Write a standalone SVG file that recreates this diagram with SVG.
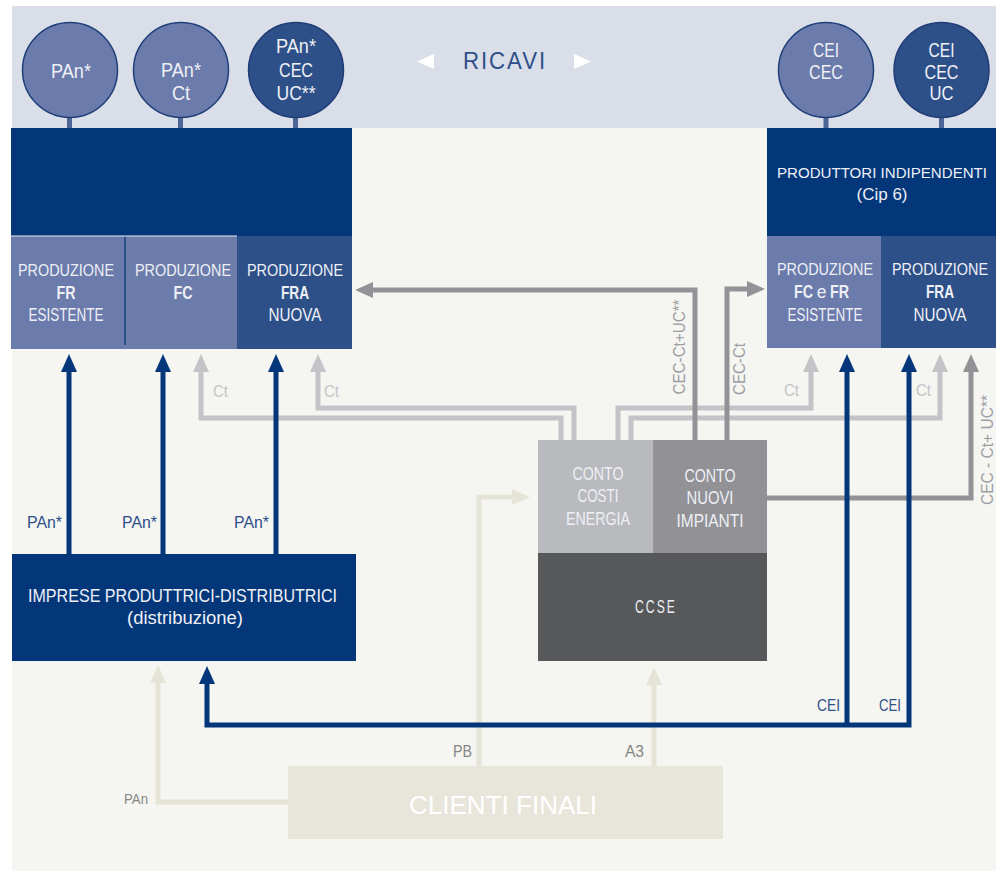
<svg xmlns="http://www.w3.org/2000/svg" width="1001" height="875" viewBox="0 0 1001 875">
<style>
text{font-family:"Liberation Sans",Arial,sans-serif}
.w{fill:#eef0f6;text-anchor:middle;font-size:17.5px}
.p{font-size:16px}
.b{font-weight:bold}
.circ{font-size:21px;fill:#eef0f6;text-anchor:middle}
.lbl{font-size:16.5px}
.blue{fill:#2e5089}
.lg{fill:#c3c4c7}
.dg{fill:#9d9ea2}
.gy{fill:#858585}
.ln{fill:none;stroke-width:5;stroke-linejoin:miter;stroke-linecap:butt}
.cb{stroke:#03377a}
.cl{stroke:#c3c4c7}
.cd{stroke:#939397}
.ce{stroke:#e6e4d7}
.stem{fill:#4e6597}
</style>
<defs>
<marker id="mb" markerUnits="userSpaceOnUse" markerWidth="20" markerHeight="18" viewBox="0 -9 20 18" refX="0" refY="0" orient="auto-start-reverse"><path d="M0,-8 L18,0 L0,8 z" fill="#03377a"/></marker>
<marker id="ml" markerUnits="userSpaceOnUse" markerWidth="20" markerHeight="18" viewBox="0 -9 20 18" refX="0" refY="0" orient="auto"><path d="M0,-8 L18,0 L0,8 z" fill="#c3c4c7"/></marker>
<marker id="md" markerUnits="userSpaceOnUse" markerWidth="20" markerHeight="18" viewBox="0 -9 20 18" refX="0" refY="0" orient="auto"><path d="M0,-8 L18,0 L0,8 z" fill="#939397"/></marker>
<marker id="me" markerUnits="userSpaceOnUse" markerWidth="20" markerHeight="18" viewBox="0 -9 20 18" refX="0" refY="0" orient="auto"><path d="M0,-8 L18,0 L0,8 z" fill="#e6e4d7"/></marker>
</defs>
<rect width="1001" height="875" fill="#ffffff"/>
<rect x="12" y="6" width="984" height="865" fill="#f5f5f1"/>
<rect x="12" y="6" width="984" height="122" fill="#d9dee9"/>

<g id="ricavi">
<polygon points="434,54 434,69 417,61.5" fill="#ffffff"/>
<polygon points="574,54 574,69 591,61.5" fill="#ffffff"/>
<text x="505" y="69" font-size="23" letter-spacing="2" fill="#2e4f88" text-anchor="middle" textLength="84" lengthAdjust="spacingAndGlyphs">RICAVI</text>
</g>

<g id="circle-pan">
<rect x="67" y="112" width="5" height="18" class="stem"/>
<circle cx="70" cy="70" r="47.5" fill="#6b7bab" stroke="#1f3f78" stroke-width="1.5"/>
<text x="71" y="78" class="circ" textLength="40" lengthAdjust="spacingAndGlyphs">PAn*</text>
</g>
<g id="circle-pan-ct">
<rect x="178" y="112" width="5" height="18" class="stem"/>
<circle cx="181" cy="70" r="47.5" fill="#6b7bab" stroke="#1f3f78" stroke-width="1.5"/>
<text x="181" y="77" class="circ" textLength="40" lengthAdjust="spacingAndGlyphs">PAn*</text>
<text x="181" y="100" class="circ" textLength="18" lengthAdjust="spacingAndGlyphs">Ct</text>
</g>
<g id="circle-pan-cec-uc">
<rect x="293" y="112" width="5" height="18" class="stem"/>
<circle cx="296" cy="70" r="47.5" fill="#2e5089" stroke="#1e3c75" stroke-width="1.5"/>
<text x="296" y="53" class="circ" textLength="40" lengthAdjust="spacingAndGlyphs">PAn*</text>
<text x="296" y="77" class="circ" textLength="34" lengthAdjust="spacingAndGlyphs">CEC</text>
<text x="296" y="100" class="circ" textLength="39" lengthAdjust="spacingAndGlyphs">UC**</text>
</g>
<g id="circle-cei-cec">
<rect x="823.5" y="112" width="5" height="18" class="stem"/>
<circle cx="826" cy="70" r="47.5" fill="#6b7bab" stroke="#1f3f78" stroke-width="1.5"/>
<text x="826" y="57" class="circ" textLength="26" lengthAdjust="spacingAndGlyphs">CEI</text>
<text x="826" y="79" class="circ" textLength="34" lengthAdjust="spacingAndGlyphs">CEC</text>
</g>
<g id="circle-cei-cec-uc">
<rect x="939" y="112" width="5" height="18" class="stem"/>
<circle cx="941.5" cy="70" r="47.5" fill="#2e5089" stroke="#1e3c75" stroke-width="1.5"/>
<text x="941.5" y="57" class="circ" textLength="26" lengthAdjust="spacingAndGlyphs">CEI</text>
<text x="941.5" y="79" class="circ" textLength="34" lengthAdjust="spacingAndGlyphs">CEC</text>
<text x="941.5" y="100" class="circ" textLength="24" lengthAdjust="spacingAndGlyphs">UC</text>
</g>

<g id="left-block">
<rect x="11" y="128" width="341" height="108" fill="#03377a"/>
</g>
<g id="prod-fr-esistente">
<rect x="11" y="236" width="114" height="113" fill="#6b7bab"/>
<text x="66" y="276" class="w p" textLength="96" lengthAdjust="spacingAndGlyphs">PRODUZIONE</text>
<text x="66" y="299" class="w b" textLength="19" lengthAdjust="spacingAndGlyphs">FR</text>
<text x="66" y="321" class="w" textLength="75" lengthAdjust="spacingAndGlyphs">ESISTENTE</text>
</g>
<g id="prod-fc">
<rect x="125" y="236" width="112" height="113" fill="#6d7dab"/>
<rect x="124" y="236" width="2" height="109" fill="#2e5089"/>
<text x="183" y="276" class="w p" textLength="96" lengthAdjust="spacingAndGlyphs">PRODUZIONE</text>
<text x="183" y="299" class="w b" textLength="19" lengthAdjust="spacingAndGlyphs">FC</text>
</g>
<g id="prod-fra-nuova-left">
<rect x="237" y="236" width="115" height="113" fill="#2e5089"/>
<text x="295" y="276" class="w p" textLength="96" lengthAdjust="spacingAndGlyphs">PRODUZIONE</text>
<text x="295" y="299" class="w b" textLength="28" lengthAdjust="spacingAndGlyphs">FRA</text>
<text x="295" y="321" class="w" textLength="53" lengthAdjust="spacingAndGlyphs">NUOVA</text>
</g>
<rect x="11" y="235.5" width="226" height="1" fill="#e8ecf4"/>

<g id="produttori-indipendenti">
<rect x="767" y="128" width="229" height="108" fill="#03377a"/>
<text x="882" y="178" class="w" style="font-size:15px" textLength="210" lengthAdjust="spacingAndGlyphs">PRODUTTORI INDIPENDENTI</text>
<text x="882" y="200" class="w" style="font-size:16.5px" textLength="51" lengthAdjust="spacingAndGlyphs">(Cip 6)</text>
</g>
<g id="prod-fc-fr-esistente">
<rect x="767" y="236" width="114" height="112" fill="#6b7bab"/>
<text x="825" y="275" class="w p" textLength="96" lengthAdjust="spacingAndGlyphs">PRODUZIONE</text>
<text x="803.5" y="298" class="w b" textLength="19" lengthAdjust="spacingAndGlyphs">FC</text>
<text x="821.5" y="298" class="w">e</text>
<text x="839.5" y="298" class="w b" textLength="19" lengthAdjust="spacingAndGlyphs">FR</text>
<text x="825" y="321" class="w" textLength="75" lengthAdjust="spacingAndGlyphs">ESISTENTE</text>
</g>
<g id="prod-fra-nuova-right">
<rect x="881" y="236" width="115" height="112" fill="#2e5089"/>
<text x="940" y="275" class="w p" textLength="96" lengthAdjust="spacingAndGlyphs">PRODUZIONE</text>
<text x="940" y="298" class="w b" textLength="28" lengthAdjust="spacingAndGlyphs">FRA</text>
<text x="940" y="321" class="w" textLength="53" lengthAdjust="spacingAndGlyphs">NUOVA</text>
</g>

<g id="imprese">
<rect x="12" y="554" width="344" height="107" fill="#03377a"/>
<text x="182.5" y="602" class="w" textLength="309" lengthAdjust="spacingAndGlyphs">IMPRESE PRODUTTRICI-DISTRIBUTRICI</text>
<text x="185" y="624" class="w" textLength="116" lengthAdjust="spacingAndGlyphs">(distribuzione)</text>
</g>

<g id="conto-costi-energia">
<rect x="538" y="440" width="115" height="113" fill="#b9babe"/>
<text x="598" y="480" class="w" textLength="51" lengthAdjust="spacingAndGlyphs">CONTO</text>
<text x="598" y="502" class="w" textLength="41" lengthAdjust="spacingAndGlyphs">COSTI</text>
<text x="598" y="525" class="w" textLength="64" lengthAdjust="spacingAndGlyphs">ENERGIA</text>
</g>
<g id="conto-nuovi-impianti">
<rect x="653" y="440" width="114" height="113" fill="#919196"/>
<text x="710" y="482" class="w" textLength="51" lengthAdjust="spacingAndGlyphs">CONTO</text>
<text x="710" y="504" class="w" textLength="47" lengthAdjust="spacingAndGlyphs">NUOVI</text>
<text x="710" y="527" class="w" textLength="67" lengthAdjust="spacingAndGlyphs">IMPIANTI</text>
</g>
<g id="ccse">
<rect x="538" y="553" width="229" height="108" fill="#57585a"/>
<text x="656" y="613" class="w" letter-spacing="3" textLength="42" lengthAdjust="spacingAndGlyphs">CCSE</text>
</g>

<g id="clienti-finali">
<rect x="288" y="766" width="435" height="73" fill="#e8e6da"/>
<text x="503" y="814" fill="#ffffff" font-size="25" text-anchor="middle" textLength="188" lengthAdjust="spacingAndGlyphs">CLIENTI FINALI</text>
</g>

<g id="connectors">
<path class="ln ce" d="M288,802 H158 V683" marker-end="url(#me)"/>
<path class="ln ce" d="M479,766 V497 H512" marker-end="url(#me)"/>
<path class="ln ce" d="M654,766 V685" marker-end="url(#me)"/>
<path class="ln cl" d="M561,440 V418 H201 V372" marker-end="url(#ml)"/>
<path class="ln cl" d="M574,440 V408 H318 V372" marker-end="url(#ml)"/>
<path class="ln cl" d="M618,440 V408 H811 V372" marker-end="url(#ml)"/>
<path class="ln cl" d="M631,440 V418 H940 V372" marker-end="url(#ml)"/>
<path class="ln cd" d="M695,440 V290 H373" marker-end="url(#md)"/>
<path class="ln cd" d="M727,440 V289 H747" marker-end="url(#md)"/>
<path class="ln cd" d="M767,498 H971 V372" marker-end="url(#md)"/>
<path class="ln cb" d="M69,554 V372" marker-end="url(#mb)"/>
<path class="ln cb" d="M163,554 V372" marker-end="url(#mb)"/>
<path class="ln cb" d="M276,554 V372" marker-end="url(#mb)"/>
<path class="ln cb" d="M909,372 V725 H207 V684" marker-start="url(#mb)" marker-end="url(#mb)"/>
<path class="ln cb" d="M847,725 V372" marker-end="url(#mb)"/>

<text x="62" y="528" class="lbl blue" text-anchor="end" textLength="35" lengthAdjust="spacingAndGlyphs">PAn*</text>
<text x="157" y="528" class="lbl blue" text-anchor="end" textLength="35" lengthAdjust="spacingAndGlyphs">PAn*</text>
<text x="269" y="528" class="lbl blue" text-anchor="end" textLength="35" lengthAdjust="spacingAndGlyphs">PAn*</text>
<text x="213" y="397" class="lbl lg" textLength="15" lengthAdjust="spacingAndGlyphs">Ct</text>
<text x="324" y="397" class="lbl lg" textLength="15" lengthAdjust="spacingAndGlyphs">Ct</text>
<text x="784" y="396" class="lbl lg" textLength="15" lengthAdjust="spacingAndGlyphs">Ct</text>
<text x="916" y="396" class="lbl lg" textLength="15" lengthAdjust="spacingAndGlyphs">Ct</text>
<text transform="translate(685,347) rotate(-90)" class="lbl dg" text-anchor="middle" textLength="95" lengthAdjust="spacingAndGlyphs">CEC-Ct+UC**</text>
<text transform="translate(745,369) rotate(-90)" class="lbl dg" text-anchor="middle" textLength="52" lengthAdjust="spacingAndGlyphs">CEC-Ct</text>
<text transform="translate(993,450) rotate(-90)" class="lbl dg" text-anchor="middle" textLength="110" lengthAdjust="spacingAndGlyphs">CEC - Ct+ UC**</text>
<text x="840" y="711" class="lbl blue" text-anchor="end" textLength="23" lengthAdjust="spacingAndGlyphs">CEI</text>
<text x="901" y="711" class="lbl blue" text-anchor="end" textLength="22" lengthAdjust="spacingAndGlyphs">CEI</text>
<text x="472" y="757" class="lbl gy" text-anchor="end" textLength="19" lengthAdjust="spacingAndGlyphs">PB</text>
<text x="644" y="757" class="lbl gy" text-anchor="end" textLength="19" lengthAdjust="spacingAndGlyphs">A3</text>
<text x="148" y="804" class="lbl gy" style="font-size:14px" text-anchor="end" textLength="24" lengthAdjust="spacingAndGlyphs">PAn</text>
</g>
</svg>
